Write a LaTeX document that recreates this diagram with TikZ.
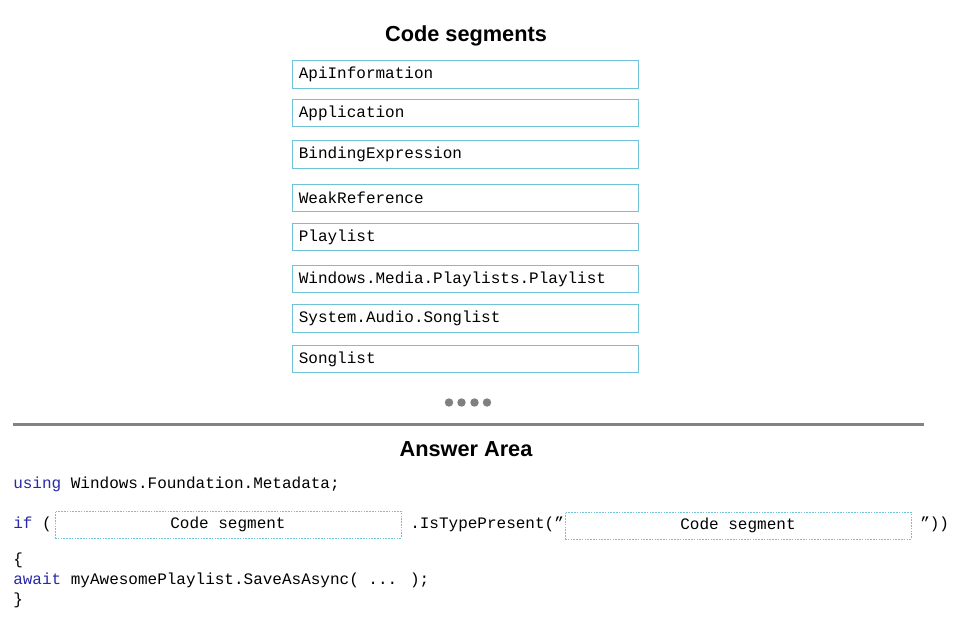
\documentclass[tikz,border=0pt]{standalone}
\usepackage{fontspec}
\setmainfont{Liberation Sans}
\newfontfamily\codefont{Liberation Mono}
\definecolor{boxblue}{RGB}{110,196,214}
\definecolor{kwblue}{RGB}{40,40,170}
\definecolor{rulegray}{RGB}{130,130,130}
\definecolor{dotgray}{RGB}{128,128,128}
\begin{document}
\begin{tikzpicture}[x=0.75pt,y=-0.75pt,
  title/.style={font=\fontsize{16.3pt}{19pt}\selectfont\bfseries, inner sep=0pt},
  segbox/.style={draw=boxblue, line width=0.75pt, minimum height=20.6pt,
    text width=250pt, align=left, inner xsep=4.5pt, inner ysep=0pt,
    font=\codefont\fontsize{12pt}{14pt}\selectfont},
  slot/.style={draw=boxblue, line width=0.6pt, dash pattern=on 1.2pt off 0.9pt,
    minimum width=259.5pt, minimum height=20.25pt, inner sep=0pt,
    font=\codefont\fontsize{12pt}{14pt}\selectfont},
  code/.style={anchor=west, inner sep=0pt, font=\codefont\fontsize{12pt}{14pt}\selectfont},
  dot/.style={circle, fill=dotgray, minimum size=6.3pt, inner sep=0pt}
]
\useasboundingbox (0,0) rectangle (967,625);

\node[title] (t1) at (466,36) {Code segments};

\node[segbox] (s1) at (465.5,74.5) {ApiInformation};
\node[segbox] (s2) at (465.5,113) {Application};
\node[segbox] (s3) at (465.5,154.5) {BindingExpression};
\node[segbox] (s4) at (465.5,198) {WeakReference};
\node[segbox] (s5) at (465.5,237) {Playlist};
\node[segbox] (s6) at (465.5,279) {Windows.Media.Playlists.Playlist};
\node[segbox] (s7) at (465.5,318.5) {System.Audio.Songlist};
\node[segbox] (s8) at (465.5,359) {Songlist};

\node[dot] (d1) at (449,402.5) {};
\node[dot] (d2) at (461.5,402.5) {};
\node[dot] (d3) at (474.5,402.5) {};
\node[dot] (d4) at (487,402.5) {};

\coordinate (rl) at (13,424.5);
\coordinate (rr) at (924,424.5);
\draw[rulegray, line width=2.3pt] (rl) -- (rr);

\node[title] (t2) at (466,449) {Answer Area};

\node[code] (c1) at (13,484.5) {\textcolor{kwblue}{using} Windows.Foundation.Metadata;};
\node[code] (c2) at (13,524) {\textcolor{kwblue}{if} (};
\node[slot] (b1) at (228,524.5) {Code segment};
\node[code] (c3) at (410,524) {.IsTypePresent(”};
\node[slot] (b2) at (738,525.5) {Code segment};
\node[code] (c4) at (920,524) {”))};
\node[code] (c5) at (13,560) {\{};
\node[code] (c6) at (13,580) {\textcolor{kwblue}{await} myAwesomePlaylist.SaveAsAsync( ... );};
\node[code] (c7) at (13,600) {\}};
\end{tikzpicture}
\end{document}
